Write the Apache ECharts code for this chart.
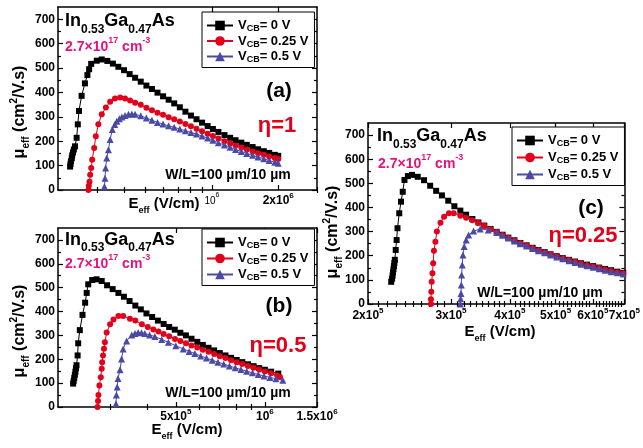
<!DOCTYPE html>
<html><head><meta charset="utf-8">
<script src="https://cdn.jsdelivr.net/npm/echarts@6/dist/echarts.min.js"></script>
<style>html,body{margin:0;padding:0;background:#fff}#c{width:643px;height:448px}</style>
</head><body><div id="c"></div>
<script>
// ---------- DATA ----------
const E_UNIT = 1e5; // E values below are in units of 10^5 V/cm
const seriesNames = ['VCB=0', 'VCB=0.25', 'VCB=0.5'];
const legendLabels = ['{v|V}{s|CB}{v|= 0 V}', '{v|V}{s|CB}{v|= 0.25 V}', '{v|V}{s|CB}{v|= 0.5 V}'];
const seriesColors = ['#000000', '#e2001a', '#4a4aa6'];
const seriesSymbols = ['rect', 'circle', 'triangle'];

// panel (a) eta = 1
const a_black = [[2.27,96],[2.28,107],[2.29,118],[2.31,130],[2.32,142],[2.34,154],[2.36,166],[2.39,179],[2.43,214],[2.46,269],[2.49,324],[2.56,386],[2.65,437],[2.72,471],[2.77,495],[2.83,517],[3.00,530],[3.16,535],[3.35,529],[3.55,518],[3.76,505],[3.99,491],[4.23,475],[4.48,460],[4.75,444],[5.04,428],[5.34,414],[5.66,399],[6.00,384],[6.36,370],[6.74,355],[7.15,339],[7.58,321],[8.03,305],[8.51,290],[9.02,276],[9.56,262],[10.1,250],[10.7,238],[11.4,225],[12.1,214],[12.8,204],[13.6,194],[14.4,185],[15.3,176],[16.2,167],[17.2,159],[18.2,152],[19.3,144],[20.0,140]];
const a_red = [[2.75,0],[2.76,17],[2.78,34],[2.80,62],[2.83,90],[2.86,124],[2.92,172],[2.97,220],[3.05,269],[3.16,310],[3.30,338],[3.45,362],[3.63,375],[3.83,379],[4.03,375],[4.25,367],[4.48,358],[4.75,349],[5.04,337],[5.34,327],[5.66,317],[6.00,308],[6.36,298],[6.74,290],[7.15,281],[7.58,271],[8.03,261],[8.51,251],[9.02,241],[9.56,231],[10.1,221],[10.7,211],[11.4,200],[12.1,191],[12.8,182],[13.6,174],[14.4,166],[15.3,158],[16.2,151],[17.2,144],[18.2,137],[19.3,131],[20.0,127]];
const a_blue = [[3.25,14],[3.27,48],[3.29,90],[3.33,131],[3.39,165],[3.45,207],[3.53,248],[3.62,268],[3.70,282],[3.80,292],[3.90,299],[4.03,305],[4.18,310],[4.33,311],[4.48,310],[4.75,304],[5.04,295],[5.34,286],[5.66,277],[6.00,270],[6.36,263],[6.74,257],[7.15,250],[7.58,243],[8.03,236],[8.51,229],[9.02,221],[9.56,213],[10.1,204],[10.7,194],[11.4,184],[12.1,175],[12.8,166],[13.6,158],[14.4,150],[15.3,142],[16.2,135],[17.2,128],[18.2,121],[19.3,114],[20.0,110]];

// panel (b) eta = 0.5
const b_black = [[2.25,98],[2.26,110],[2.27,122],[2.28,135],[2.29,148],[2.30,162],[2.31,175],[2.33,216],[2.34,267],[2.37,322],[2.42,386],[2.47,437],[2.50,478],[2.53,514],[2.61,532],[2.70,535],[2.81,528],[2.93,510],[3.06,494],[3.20,478],[3.34,462],[3.49,444],[3.65,425],[3.81,409],[3.98,392],[4.16,377],[4.35,362],[4.55,348],[4.75,335],[4.96,324],[5.18,311],[5.41,300],[5.65,286],[5.91,273],[6.17,260],[6.45,248],[6.74,237],[7.04,226],[7.36,216],[7.69,206],[8.03,197],[8.39,188],[8.77,179],[9.16,171],[9.57,163],[10.0,156],[10.5,148],[11.1,140]];
const b_red = [[2.72,0],[2.73,25],[2.74,50],[2.76,90],[2.79,125],[2.81,160],[2.82,188],[2.84,216],[2.86,244],[2.88,271],[2.92,312],[3.00,347],[3.08,367],[3.20,381],[3.32,381],[3.50,370],[3.65,362],[3.84,347],[4.02,335],[4.20,325],[4.37,316],[4.55,306],[4.75,296],[4.97,285],[5.18,277],[5.41,267],[5.65,258],[5.91,249],[6.17,240],[6.45,231],[6.74,222],[7.04,213],[7.36,205],[7.69,196],[8.03,188],[8.39,180],[8.77,172],[9.16,164],[9.57,157],[10.0,149],[10.5,141],[11.0,133],[11.25,126]];
const b_blue = [[3.14,14],[3.15,50],[3.17,84],[3.19,119],[3.24,156],[3.28,201],[3.32,243],[3.41,277],[3.55,302],[3.64,308],[3.73,312],[3.83,311],[3.93,308],[4.08,302],[4.25,295],[4.48,283],[4.72,271],[5.00,257],[5.30,243],[5.55,233],[5.80,224],[6.07,214],[6.35,205],[6.64,196],[6.94,188],[7.26,180],[7.59,172],[7.94,164],[8.30,157],[8.68,150],[9.08,143],[9.50,136],[9.93,130],[10.4,124],[10.9,118],[11.5,112]];

// panel (c) eta = 0.25
const c_black = [[2.24,92],[2.25,105],[2.255,118],[2.26,131],[2.265,144],[2.27,157],[2.275,170],[2.28,183],[2.29,224],[2.30,265],[2.31,314],[2.33,376],[2.35,424],[2.37,465],[2.39,514],[2.43,530],[2.48,535],[2.55,527],[2.63,513],[2.71,490],[2.79,469],[2.87,450],[2.96,428],[3.05,405],[3.14,387],[3.23,370],[3.33,352],[3.43,338],[3.53,325],[3.64,311],[3.75,299],[3.86,287],[3.97,275],[4.09,264],[4.21,253],[4.34,243],[4.47,233],[4.60,224],[4.74,215],[4.88,206],[5.03,198],[5.18,190],[5.34,183],[5.50,176],[5.66,169],[5.83,163],[6.01,157],[6.19,151],[6.37,145],[6.56,140],[6.76,134],[6.96,129]];
const c_red = [[2.72,0],[2.72,20],[2.725,51],[2.73,92],[2.74,127],[2.75,169],[2.76,221],[2.78,258],[2.80,300],[2.85,337],[2.90,362],[2.97,376],[3.04,376],[3.14,366],[3.23,357],[3.33,347],[3.43,336],[3.53,324],[3.64,310],[3.75,298],[3.86,286],[3.97,274],[4.09,263],[4.21,252],[4.34,242],[4.47,232],[4.60,223],[4.74,214],[4.88,205],[5.03,197],[5.18,189],[5.34,182],[5.50,175],[5.66,168],[5.83,161],[6.01,155],[6.19,149],[6.37,143],[6.56,137],[6.76,132],[6.96,127]];
const c_blue = [[3.14,0],[3.145,22],[3.15,44],[3.155,79],[3.16,120],[3.17,162],[3.18,203],[3.20,238],[3.23,265],[3.27,286],[3.35,302],[3.46,311],[3.60,307],[3.75,296],[3.86,285],[3.97,273],[4.09,261],[4.21,250],[4.34,240],[4.47,230],[4.60,221],[4.74,212],[4.88,203],[5.03,195],[5.18,187],[5.34,179],[5.50,172],[5.66,165],[5.83,158],[6.01,152],[6.19,146],[6.37,140],[6.56,134],[6.76,129],[6.96,124]];

// axis ticks and labels
const yTicks = [0,100,200,300,400,500,600,700];
const yMinorTicks = [50,150,250,350,450,550,650];
const a_xMajor = [1e6, 2e6];
const a_xLabels = ['{sm|10}{smsup|6}', '{n|2x10}{sup|6}'];
const a_xMinor = [3e5,4e5,5e5,6e5,7e5,8e5,9e5,3e6];
const b_xMajor = [5e5, 1e6, 1.5e6];
const b_xLabels = ['{n|5x10}{sup|5}', '{n|10}{sup|6}', '{n|1.5x10}{sup|6}'];
const b_xMinor = [3e5,4e5,6e5,7e5,8e5,9e5];
const c_xMajor = [2e5,3e5,4e5,5e5,6e5,7e5];
const c_xLabels = ['{n|2x10}{sup|5}','{n|3x10}{sup|5}','{n|4x10}{sup|5}','{n|5x10}{sup|5}','{n|6x10}{sup|5}','{n|7x10}{sup|5}'];
const c_xMinor = [2.1e5,2.2e5,2.3e5,2.4e5,2.5e5,2.6e5,2.7e5,2.8e5,2.9e5,3.1e5,3.2e5,3.3e5,3.4e5,3.5e5,3.6e5,3.7e5,3.8e5,3.9e5,4.1e5,4.2e5,4.3e5,4.4e5,4.5e5,4.6e5,4.7e5,4.8e5,4.9e5,5.1e5,5.2e5,5.3e5,5.4e5,5.5e5,5.6e5,5.7e5,5.8e5,5.9e5,6.1e5,6.2e5,6.3e5,6.4e5,6.5e5,6.6e5,6.7e5,6.8e5,6.9e5];

// annotation texts
const materialText = '{m|In}{s|0.53}{m|Ga}{s|0.47}{m|As}';
const dopingText = '{m|2.7×10}{p|17}{m| cm}{p|-3}';
const panelTags = ['(a)', '(b)', '(c)'];
const etaTexts = ['η=1', 'η=0.5', 'η=0.25'];
const wlText = 'W/L=100 µm/10 µm';
const xTitle = '{m|E}{s|eff}{m| (V/cm)}';
const yTitle = '{m|μ}{s|eff}{m| (cm}{p|2}{m|/V.s)}';

// ---------- OPTION ----------
const FONT = '"Liberation Sans", Arial, Helvetica, sans-serif';
const panels = [
  {grid:{left:58, top:7, width:259, height:183}, xMin:2e5, xMax:3e6, major:a_xMajor, labels:a_xLabels, minor:a_xMinor, data:[a_black,a_red,a_blue], lg:{left:202, top:12, gap:1}, lblMargin:2,
   txt:{mat:[65,21.5], dop:[65,47.5], tag:[279,91], eta:[277,126], wl:[228,175], xt:[164,204], yt:[20,112]}},
  {grid:{left:58, top:228, width:259, height:179}, xMin:2e5, xMax:1.5e6, major:b_xMajor, labels:b_xLabels, minor:b_xMinor, data:[b_black,b_red,b_blue], lg:{left:202, top:229, gap:1.5}, lblMargin:1,
   txt:{mat:[65,240], dop:[65,264], tag:[279,306], eta:[278,346], wl:[228,393], xt:[187,430], yt:[20,331]}},
  {grid:{left:368, top:123, width:262, height:181}, xMin:2e5, xMax:7e5, major:c_xMajor, labels:c_xLabels, minor:c_xMinor, data:[c_black,c_red,c_blue], lg:{left:512, top:127, gap:2.5}, lblMargin:3,
   txt:{mat:[377,136.5], dop:[378,164], tag:[591,208], eta:[583,236], wl:[540,293], xt:[500,332], yt:[333,232]}}
];

const grids = [], xAxes = [], yAxes = [], series = [], legends = [], graphics = [];
const axisLine = {show:true, onZero:false, lineStyle:{color:'#000', width:1.5}};
const noLabel = {show:false};
const tickStyle = {color:'#000', width:1.2};

panels.forEach((p, i) => {
  grids.push(Object.assign({containLabel:false}, p.grid));
  const xBase = {gridIndex:i, type:'log', logBase:10, min:p.xMin, max:p.xMax, splitLine:{show:false}, minorTick:{show:false}, minorSplitLine:{show:false}};
  const fmt = v => { for (let k = 0; k < p.major.length; k++) { if (Math.abs(v - p.major[k]) / p.major[k] < 1e-6) return p.labels[k]; } return ''; };
  xAxes.push(Object.assign({}, xBase, {position:'bottom', axisLine:axisLine,
    axisTick:{show:true, inside:true, length:5, customValues:p.major, lineStyle:tickStyle},
    axisLabel:{show:true, customValues:p.major, margin:p.lblMargin, formatter:fmt, color:'#000',
      rich:{n:{fontFamily:FONT, fontSize:12, fontWeight:'bold', color:'#000', lineHeight:18},
            sup:{fontFamily:FONT, fontSize:8, fontWeight:'bold', color:'#000', lineHeight:9, verticalAlign:'top'},
            sm:{fontFamily:FONT, fontSize:10, color:'#000', lineHeight:18},
            smsup:{fontFamily:FONT, fontSize:7, color:'#000', lineHeight:9, verticalAlign:'top'}}}}));
  xAxes.push(Object.assign({}, xBase, {position:'bottom', axisLine:{show:false},
    axisTick:{show:true, inside:true, length:3, customValues:p.minor, lineStyle:tickStyle}, axisLabel:noLabel}));
  xAxes.push(Object.assign({}, xBase, {position:'top', axisLine:axisLine,
    axisTick:{show:true, inside:true, length:5, customValues:p.major, lineStyle:tickStyle}, axisLabel:noLabel}));
  xAxes.push(Object.assign({}, xBase, {position:'top', axisLine:{show:false},
    axisTick:{show:true, inside:true, length:3, customValues:p.minor, lineStyle:tickStyle}, axisLabel:noLabel}));

  const yBase = {gridIndex:i, type:'value', min:0, max:750, splitLine:{show:false}, minorTick:{show:false}};
  yAxes.push(Object.assign({}, yBase, {position:'left', axisLine:axisLine,
    axisTick:{show:true, inside:true, length:5, customValues:yTicks, lineStyle:tickStyle},
    axisLabel:{show:true, customValues:yTicks, margin:3, fontFamily:FONT, fontSize:12, fontWeight:'bold', color:'#000'}}));
  yAxes.push(Object.assign({}, yBase, {position:'left', axisLine:{show:false},
    axisTick:{show:true, inside:true, length:3, customValues:yMinorTicks, lineStyle:tickStyle}, axisLabel:noLabel}));
  yAxes.push(Object.assign({}, yBase, {position:'right', axisLine:axisLine,
    axisTick:{show:true, inside:true, length:5, customValues:yTicks, lineStyle:tickStyle}, axisLabel:noLabel}));
  yAxes.push(Object.assign({}, yBase, {position:'right', axisLine:{show:false},
    axisTick:{show:true, inside:true, length:3, customValues:yMinorTicks, lineStyle:tickStyle}, axisLabel:noLabel}));

  p.data.forEach((d, s) => {
    series.push({
      name: seriesNames[s], type:'line', xAxisIndex:i*4, yAxisIndex:i*4,
      data: d.map(pt => [pt[0] * E_UNIT, pt[1]]),
      symbol: seriesSymbols[s], symbolSize: s === 2 ? 7 : 6, showSymbol:true,
      lineStyle:{color:seriesColors[s], width:1}, itemStyle:{color:seriesColors[s]},
      emphasis:{disabled:true}, animation:false, clip:true, z: 2 + s
    });
  });

  legends.push({show:true, orient:'vertical', left:p.lg.left, top:p.lg.top, data:seriesNames,
    itemWidth:26, itemHeight:12, itemGap:p.lg.gap, padding:[7,6,3,4],
    borderColor:'#000', borderWidth:1, backgroundColor:'#fff', selectedMode:false,
    formatter: name => legendLabels[seriesNames.indexOf(name)],
    textStyle:{color:'#000', fontFamily:FONT,
      rich:{v:{fontFamily:FONT, fontSize:13, fontWeight:'bold', color:'#000', lineHeight:16},
            s:{fontFamily:FONT, fontSize:9, fontWeight:'bold', color:'#000', lineHeight:8, verticalAlign:'bottom'}}}});

  const t = p.txt;
  graphics.push({type:'text', x:t.mat[0], y:t.mat[1], style:{text:materialText, align:'left', verticalAlign:'middle',
    rich:{m:{fontFamily:FONT, fontSize:18, fontWeight:'bold', fill:'#000', lineHeight:28},
          s:{fontFamily:FONT, fontSize:12, fontWeight:'bold', fill:'#000', lineHeight:12, verticalAlign:'bottom'}}}});
  graphics.push({type:'text', x:t.dop[0], y:t.dop[1], style:{text:dopingText, align:'left', verticalAlign:'middle',
    rich:{m:{fontFamily:FONT, fontSize:14, fontWeight:'bold', fill:'#e5127d', lineHeight:22},
          p:{fontFamily:FONT, fontSize:9, fontWeight:'bold', fill:'#e5127d', lineHeight:10, verticalAlign:'top'}}}});
  graphics.push({type:'text', x:t.tag[0], y:t.tag[1], style:{text:panelTags[i], align:'center', verticalAlign:'middle',
    fontFamily:FONT, fontSize:21, fontWeight:'bold', fill:'#000'}});
  graphics.push({type:'text', x:t.eta[0], y:t.eta[1], style:{text:etaTexts[i], align:'center', verticalAlign:'middle',
    fontFamily:FONT, fontSize:22, fontWeight:'bold', fill:'#e2001a'}});
  graphics.push({type:'text', x:t.wl[0], y:t.wl[1], style:{text:wlText, align:'center', verticalAlign:'middle',
    fontFamily:FONT, fontSize:14, fontWeight:'bold', fill:'#000'}});
  graphics.push({type:'text', x:t.xt[0], y:t.xt[1], style:{text:xTitle, align:'center', verticalAlign:'middle',
    rich:{m:{fontFamily:FONT, fontSize:15, fontWeight:'bold', fill:'#000', lineHeight:22},
          s:{fontFamily:FONT, fontSize:9, fontWeight:'bold', fill:'#000', lineHeight:9, verticalAlign:'bottom'}}}});
  graphics.push({type:'text', x:t.yt[0], y:t.yt[1], rotation:Math.PI/2, style:{text:yTitle, align:'center', verticalAlign:'middle',
    rich:{m:{fontFamily:FONT, fontSize:16, fontWeight:'bold', fill:'#000', lineHeight:22},
          s:{fontFamily:FONT, fontSize:10, fontWeight:'bold', fill:'#000', lineHeight:10, verticalAlign:'bottom'},
          p:{fontFamily:FONT, fontSize:10, fontWeight:'bold', fill:'#000', lineHeight:10, verticalAlign:'top'}}}});
});

const chart = echarts.init(document.getElementById('c'), null, {renderer:'canvas'});
chart.setOption({
  backgroundColor:'#fff', animation:false,
  grid:grids, xAxis:xAxes, yAxis:yAxes, series:series, legend:legends, graphic:graphics
});
</script></body></html>
